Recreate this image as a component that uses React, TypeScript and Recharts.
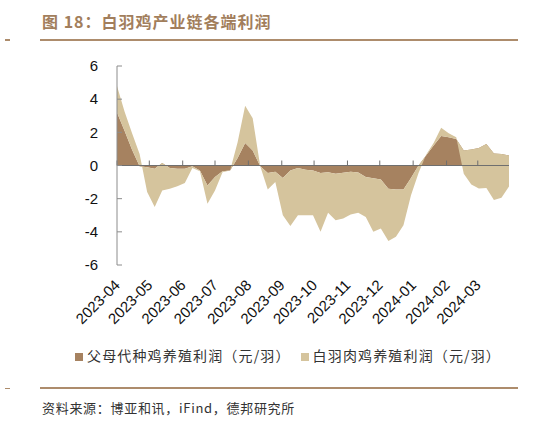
import React from "react";
import {
  AreaChart,
  Area,
  XAxis,
  YAxis,
  Legend,
  ReferenceLine,
} from "recharts";

// weekly observations, Apr 2023 - Mar 2024
const weeks = [
  "2023-04-01", "2023-04-08", "2023-04-15", "2023-04-22", "2023-04-29",
  "2023-05-06", "2023-05-13", "2023-05-20", "2023-05-27", "2023-06-03",
  "2023-06-10", "2023-06-17", "2023-06-24", "2023-07-01", "2023-07-08",
  "2023-07-15", "2023-07-22", "2023-07-29", "2023-08-05", "2023-08-12",
  "2023-08-19", "2023-08-26", "2023-09-02", "2023-09-09", "2023-09-16",
  "2023-09-23", "2023-09-30", "2023-10-07", "2023-10-14", "2023-10-21",
  "2023-10-28", "2023-11-04", "2023-11-11", "2023-11-18", "2023-11-25",
  "2023-12-02", "2023-12-09", "2023-12-16", "2023-12-23", "2023-12-30",
  "2024-01-06", "2024-01-13", "2024-01-20", "2024-01-27", "2024-02-03",
  "2024-02-10", "2024-02-17", "2024-02-24", "2024-03-02", "2024-03-09",
  "2024-03-16", "2024-03-23", "2024-03-30",
];

// 父母代种鸡养殖利润（元/羽）
const parentProfit = [
  3.2, 2.1, 0.95, -0.05, -0.1, -0.2, 0.15, -0.15, -0.2, -0.2,
  -0.05, -0.3, -1.2, -0.7, -0.35, -0.3, 0.45, 1.35, 0.9, -0.05,
  -0.45, -0.38, -0.75, -0.3, -0.15, -0.25, -0.3, -0.45, -0.4, -0.5,
  -0.43, -0.38, -0.42, -0.7, -0.77, -0.85, -1.4, -1.45, -1.45, -0.75,
  0, 0.6, 1.2, 1.78, 1.7, 1.6, 0.9, 0.97, 1.05, 1.3,
  0.72, 0.7, 0.6,
];

// 白羽肉鸡养殖利润（元/羽）, stacked on top of the parent series
const broilerProfit = [
  1.6, 1.15, 1.0, 0.75, -1.5, -2.3, -1.65, -1.25, -1.05, -0.85,
  -0.1, -0.05, -1.1, -0.8, -0.05, 0, 0.95, 2.25, 1.95, 0,
  -1.0, -0.62, -2.25, -3.35, -2.85, -2.75, -2.7, -3.55, -2.45, -2.8,
  -2.77, -2.57, -2.43, -2.4, -3.23, -2.95, -3.15, -2.85, -2.15, -1.05,
  -0.45, 0.05, 0.15, 0.5, 0.25, 0.1, -1.4, -2.12, -2.43, -2.65,
  -2.8, -2.65, -1.87,
];

const monthLabels = [
  "2023-04", "2023-05", "2023-06", "2023-07", "2023-08", "2023-09",
  "2023-10", "2023-11", "2023-12", "2024-01", "2024-02", "2024-03",
];

const yTicks = [-6, -4, -2, 0, 2, 4, 6];

const BROWN = "#a68260";
const TAN = "#d5c49d";
const LINE = "#ad8c6c";

const data = weeks.map((w, i) => ({
  t: Date.parse(w),
  parent: parentProfit[i],
  broiler: broilerProfit[i],
}));

const monthTicks = monthLabels.map((m) => Date.parse(m + "-01"));

const fmtMonth = (t: number) => {
  const d = new Date(t);
  return `${d.getUTCFullYear()}-${String(d.getUTCMonth() + 1).padStart(2, "0")}`;
};

const MonthTick: React.FC<any> = ({ x, y, payload }) => (
  <g transform={`translate(${x + 4},${y + 13})`}>
    <text
      x={0}
      y={0}
      textAnchor="end"
      fill="#111"
      fontSize={15}
      fontFamily="'Liberation Sans', Arial, sans-serif"
      transform="rotate(-45)"
    >
      {fmtMonth(payload.value)}
    </text>
  </g>
);

const App: React.FC = () => {
  return (
    <div
      style={{
        position: "absolute",
        left: 0,
        top: 0,
        width: 558,
        height: 429,
        background: "#fff",
        fontFamily: "'Noto Sans CJK SC', sans-serif",
      }}
    >
      <div
        style={{
          position: "absolute",
          left: 42,
          top: 9,
          fontSize: 16,
          fontWeight: 700,
          color: "#a27e5c",
          letterSpacing: 1,
          whiteSpace: "nowrap",
        }}
      >
        图 18：白羽鸡产业链各端利润
      </div>
      <div style={{ position: "absolute", left: 5, top: 39, width: 5, height: 1.5, background: LINE }} />
      <div style={{ position: "absolute", left: 40, top: 38.5, width: 478, height: 2, background: LINE }} />

      <div style={{ position: "absolute", left: 0, top: 0 }}>
        <AreaChart
          width={558}
          height={429}
          data={data}
          margin={{ top: 66, right: 49, left: 77, bottom: 94 }}
        >
          <XAxis
            dataKey="t"
            type="number"
            scale="linear"
            domain={["dataMin", "dataMax"]}
            ticks={monthTicks}
            interval={0}
            axisLine={false}
            tickLine={false}
            height={70}
            tick={<MonthTick />}
          />
          <YAxis
            domain={[-6, 6]}
            ticks={yTicks}
            width={40}
            tickSize={-5}
            tickMargin={24}
            axisLine={{ stroke: "#8c8c8c" }}
            tickLine={{ stroke: "#8c8c8c" }}
            tick={{
              fill: "#111",
              fontSize: 15,
              fontFamily: "'Liberation Sans', Arial, sans-serif",
            }}
          />
          <Legend
            verticalAlign="middle"
            align="center"
            iconType="square"
            iconSize={8}
            wrapperStyle={{
              top: 345,
              left: 14,
              width: 558,
              fontSize: 14,
              letterSpacing: 1.15,
            }}
            formatter={(value) => <span style={{ color: "#333" }}>{value}</span>}
          />
          <Area
            type="linear"
            dataKey="parent"
            stackId="a"
            name="父母代种鸡养殖利润（元/羽）"
            fill={BROWN}
            fillOpacity={1}
            stroke="none"
            isAnimationActive={false}
          />
          <Area
            type="linear"
            dataKey="broiler"
            stackId="a"
            name="白羽肉鸡养殖利润（元/羽）"
            fill={TAN}
            fillOpacity={1}
            stroke="none"
            isAnimationActive={false}
          />
          <ReferenceLine y={0} stroke="#6f6f6f" strokeWidth={1.2} />
          {monthTicks.map((t) => (
            <ReferenceLine
              key={t}
              segment={[
                { x: t, y: 0 },
                { x: t, y: 0.3 },
              ]}
              stroke="#6f6f6f"
            />
          ))}
        </AreaChart>
      </div>

      <div style={{ position: "absolute", left: 5, top: 387.5, width: 5, height: 1.5, background: LINE }} />
      <div style={{ position: "absolute", left: 40, top: 387, width: 478, height: 2, background: LINE }} />
      <div
        style={{
          position: "absolute",
          left: 42,
          top: 398,
          fontSize: 13,
          color: "#333",
          letterSpacing: 0.7,
          whiteSpace: "nowrap",
        }}
      >
        资料来源：博亚和讯，iFind，德邦研究所
      </div>
    </div>
  );
};

export default App;
